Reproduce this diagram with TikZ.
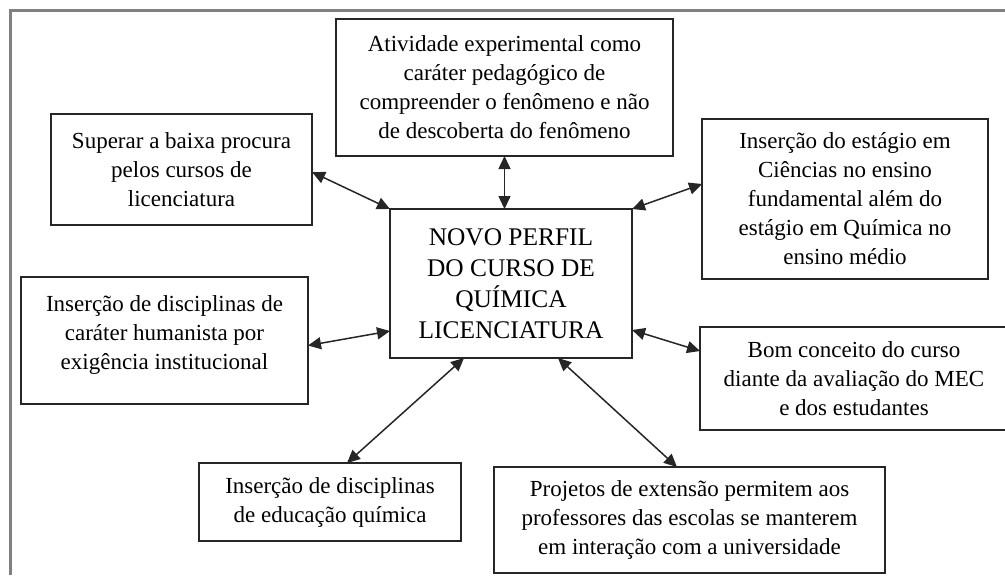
\documentclass[tikz,border=0pt]{standalone}
\usepackage{fontspec}
\setmainfont{Liberation Serif}
\usetikzlibrary{arrows.meta}
\begin{document}
\begin{tikzpicture}[x=0.5pt,y=-0.5pt,
  box/.style={draw=black!85, line width=0.9pt, rectangle, inner sep=0pt, outer sep=0pt,
    align=center, font=\fontsize{11.5pt}{14.5pt}\selectfont},
  mainbox/.style={box, font=\fontsize{12.7pt}{15.5pt}\selectfont},
  link/.style={{Triangle[length=6.5pt,width=6pt]}-{Triangle[length=6.5pt,width=6pt]}, line width=0.75pt, black!85},
  frame/.style={draw=black!50, line width=1.25pt}]
\useasboundingbox (0,0) rectangle (1005,575);
\draw[frame] (10.5,575) -- (10.5,10.5) -- (1005,10.5);

\node[mainbox, minimum width=121pt, minimum height=74.5pt] (cen) at (511,283.5)
  {NOVO PERFIL\\DO CURSO DE\\QUÍMICA\\LICENCIATURA};
\node[box, minimum width=168.5pt, minimum height=68.5pt] (ativ) at (504.5,87.5)
  {Atividade experimental como\\caráter pedagógico de\\compreender o fenômeno e não\\de descoberta do fenômeno};
\node[box, minimum width=130.5pt, minimum height=55.5pt] (sup) at (181.5,169.5)
  {Superar a baixa procura\\pelos cursos de\\licenciatura};
\node[box, minimum width=143pt, minimum height=80pt] (est) at (845,199)
  {Inserção do estágio em\\Ciências no ensino\\fundamental além do\\estágio em Química no\\ensino médio};
\node[box, minimum width=143.5pt, minimum height=63.5pt] (hum) at (164.5,340.5)
  {Inserção de disciplinas de\\caráter humanista por\\exigência institucional\rule[-8pt]{0pt}{0pt}};
\node[box, minimum width=154pt, minimum height=51.5pt] (bom) at (854,378.5)
  {Bom conceito do curso\\diante da avaliação do MEC\\e dos estudantes};
\node[box, minimum width=131pt, minimum height=39pt] (edu) at (330,502)
  {Inserção de disciplinas\\de educação química};
\node[box, minimum width=195.5pt, minimum height=53pt] (proj) at (689.5,520)
  {Projetos de extensão permitem aos\\professores das escolas se manterem\\em interação com a universidade};

\draw[link] ([yshift=-1.25pt]sup.east) -- (cen.north west);
\draw[link] (ativ.south) -- (ativ.south |- cen.north);
\draw[link] ([yshift=7.5pt]est.west) -- (cen.north east);
\draw[link] ([yshift=-2.5pt]hum.east) -- ([yshift=-23.75pt]cen.west);
\draw[link] ([xshift=8.5pt]edu.north) -- ([xshift=-23.5pt]cen.south);
\draw[link] ([yshift=-23.25pt]cen.east) -- ([yshift=13.75pt]bom.west);
\draw[link] ([xshift=23.5pt]cen.south) -- ([xshift=-6.25pt]proj.north);
\end{tikzpicture}
\end{document}
